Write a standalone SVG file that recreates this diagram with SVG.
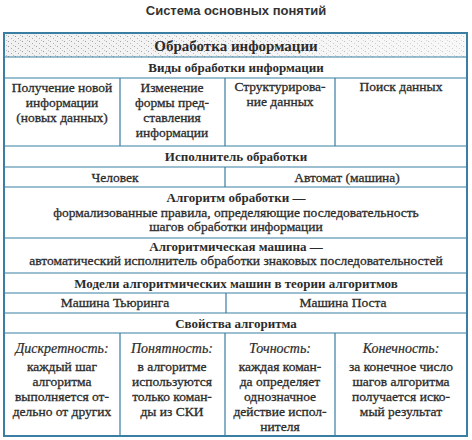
<svg xmlns="http://www.w3.org/2000/svg" width="472" height="440" viewBox="0 0 472 440">
<defs>
<pattern id="stip" width="7" height="5" patternUnits="userSpaceOnUse">
<rect width="7" height="5" fill="#f1f1f1"/>
<rect x="1" y="1" width="1" height="1" fill="#999"/>
<rect x="4" y="3" width="1" height="1" fill="#aaa"/>
<rect x="6" y="0" width="1" height="1" fill="#bbb"/>
</pattern>
<linearGradient id="fade" x1="0" y1="0" x2="1" y2="0">
<stop offset="0" stop-color="#fff" stop-opacity="0"/>
<stop offset="1" stop-color="#fff" stop-opacity="0.5"/>
</linearGradient>
</defs>
<style>
text{font-family:"Liberation Serif","DejaVu Serif",serif;fill:#2b2b2b;text-anchor:middle}
.t{font-family:"Liberation Sans","DejaVu Sans",sans-serif;font-weight:bold;font-size:13px;fill:#333}
.h1{font-weight:bold;font-size:15px}
.h{font-weight:bold;font-size:13px}
.b{font-size:13.5px;stroke:#2b2b2b;stroke-width:0.3}
.i{font-style:italic;font-size:14px;stroke:#2b2b2b;stroke-width:0.2}
.ln{stroke:#3a7ea3;stroke-width:1.2;fill:none}
.out{stroke:#3a7ea3;stroke-width:2;fill:none}
</style>
<rect x="4" y="33" width="463" height="24" fill="url(#stip)"/>
<rect x="4" y="33" width="463" height="24" fill="url(#fade)"/>
<text class="t" x="236" y="15">Система основных понятий</text>
<g id="connectors">
<rect class="out" x="4" y="33" width="463" height="403"/>
<path class="ln" d="M4 57H467M4 78H467M4 146H467M4 167H467M4 187H467M4 238H467M4 273H467M4 293H467M4 313H467M4 333H467"/>
<path class="ln" d="M120 78V146M225 78V146M335 78V146M225 167V187M226 293V313M120 333V436M225 333V436M335 333V436"/>
</g>
<g id="n-obr"><text class="h1" x="236" y="51">Обработка информации</text></g>
<g id="n-vidy"><text class="h" x="236" y="72">Виды обработки информации</text></g>
<g id="n-poluch"><text class="b" x="62" y="92">Получение новой</text><text class="b" x="62" y="107">информации</text><text class="b" x="62" y="122">(новых данных)</text></g>
<g id="n-izm"><text class="b" x="172" y="92">Изменение</text><text class="b" x="172" y="107">формы пред-</text><text class="b" x="172" y="122">ставления</text><text class="b" x="172" y="137">информации</text></g>
<g id="n-strukt"><text class="b" x="280" y="91">Структурирова-</text><text class="b" x="280" y="106">ние данных</text></g>
<g id="n-poisk"><text class="b" x="401" y="91">Поиск данных</text></g>
<g id="n-isp"><text class="h" x="236" y="161">Исполнитель обработки</text></g>
<g id="n-chel"><text class="b" x="115" y="182">Человек</text></g>
<g id="n-avt"><text class="b" x="347" y="182">Автомат (машина)</text></g>
<g id="n-alg"><text class="h" x="236" y="202">Алгоритм обработки —</text><text class="b" x="236" y="217">формализованные правила, определяющие последовательность</text><text class="b" x="236" y="231">шагов обработки информации</text></g>
<g id="n-am"><text class="h" x="236" y="251">Алгоритмическая машина —</text><text class="b" x="236" y="265">автоматический исполнитель обработки знаковых последовательностей</text></g>
<g id="n-mod"><text class="h" x="236" y="288">Модели алгоритмических машин в теории алгоритмов</text></g>
<g id="n-tur"><text class="b" x="115" y="307">Машина Тьюринга</text></g>
<g id="n-post"><text class="b" x="343" y="307">Машина Поста</text></g>
<g id="n-sv"><text class="h" x="236" y="328">Свойства алгоритма</text></g>
<g id="n-diskr"><text class="i" x="62" y="353">Дискретность:</text><text class="b" x="62" y="371">каждый шаг</text><text class="b" x="62" y="386">алгоритма</text><text class="b" x="62" y="401">выполняется от-</text><text class="b" x="62" y="416">дельно от других</text></g>
<g id="n-pon"><text class="i" x="172" y="353">Понятность:</text><text class="b" x="172" y="371">в алгоритме</text><text class="b" x="172" y="386">используются</text><text class="b" x="172" y="401">только коман-</text><text class="b" x="172" y="416">ды из СКИ</text></g>
<g id="n-toch"><text class="i" x="280" y="353">Точность:</text><text class="b" x="280" y="371">каждая коман-</text><text class="b" x="280" y="386">да определяет</text><text class="b" x="280" y="401">однозначное</text><text class="b" x="280" y="416">действие испол-</text><text class="b" x="280" y="431">нителя</text></g>
<g id="n-kon"><text class="i" x="401" y="353">Конечность:</text><text class="b" x="401" y="371">за конечное число</text><text class="b" x="401" y="386">шагов алгоритма</text><text class="b" x="401" y="401">получается иско-</text><text class="b" x="401" y="416">мый результат</text></g>
</svg>
